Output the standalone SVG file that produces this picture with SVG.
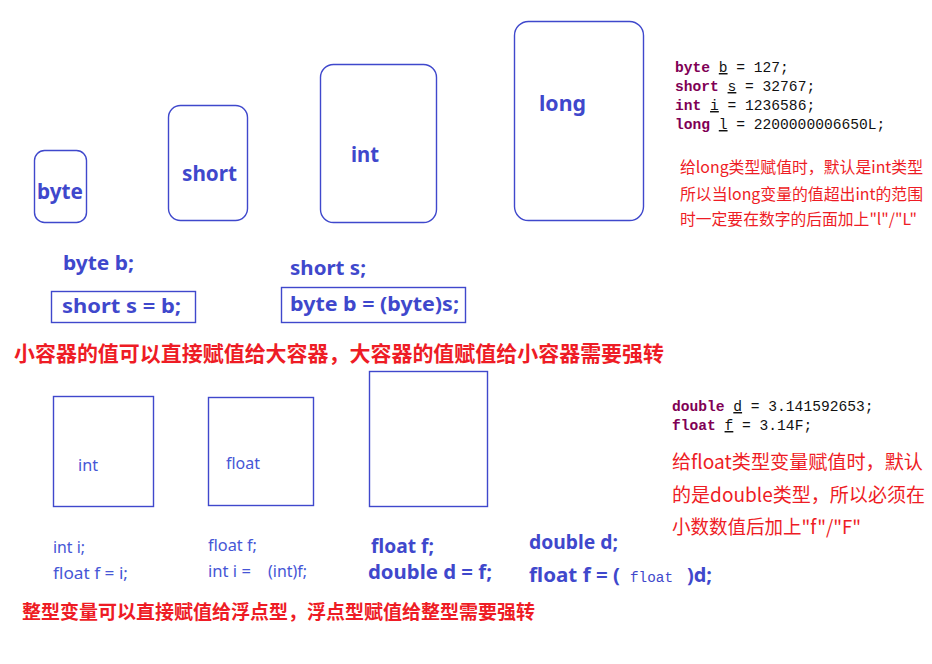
<svg xmlns="http://www.w3.org/2000/svg" width="932" height="664" viewBox="0 0 932 664">
<style>
.box{fill:none;stroke:#3f48cc;stroke-width:1.4}
.lbl{font-family:"Noto Sans","Noto Sans CJK SC",sans-serif;font-weight:bold;fill:#3f48cc}
.thin{font-family:"Noto Sans","Noto Sans CJK SC",sans-serif;font-weight:normal;fill:#4656d6}
.code{font-family:"Liberation Mono","DejaVu Sans Mono",monospace;font-size:14.6px;fill:#111}
.kw{font-weight:bold;fill:#7f0055}
.ul{text-decoration:underline}
.red{font-family:"Noto Sans CJK SC","Noto Sans",sans-serif;fill:#ee1c25}
.redb{font-family:"Noto Sans CJK SC","Noto Sans",sans-serif;font-weight:bold;fill:#ee1c25}
</style>
<rect width="932" height="664" fill="#fff"/>
<g id="connectors"></g>
<g id="node-byte">
<rect class="box" x="34.5" y="150.5" width="52" height="72" rx="10"/>
<text class="lbl" x="37" y="199" font-size="21" textLength="46" lengthAdjust="spacingAndGlyphs">byte</text>
</g>
<g id="node-short">
<rect class="box" x="168.5" y="105.5" width="79" height="115" rx="12"/>
<text class="lbl" x="182" y="181" font-size="21" textLength="55" lengthAdjust="spacingAndGlyphs">short</text>
</g>
<g id="node-int">
<rect class="box" x="320.5" y="64.5" width="116" height="158" rx="13"/>
<text class="lbl" x="351" y="162" font-size="21" textLength="28" lengthAdjust="spacingAndGlyphs">int</text>
</g>
<g id="node-long">
<rect class="box" x="514.5" y="21.5" width="129" height="199" rx="14"/>
<text class="lbl" x="539" y="111" font-size="21" textLength="47" lengthAdjust="spacingAndGlyphs">long</text>
</g>
<g id="code-top">
<text class="code" x="675" y="72"><tspan class="kw">byte</tspan> <tspan class="ul">b</tspan> = 127;</text>
<text class="code" x="675" y="91"><tspan class="kw">short</tspan> <tspan class="ul">s</tspan> = 32767;</text>
<text class="code" x="675" y="110"><tspan class="kw">int</tspan> <tspan class="ul">i</tspan> = 1236586;</text>
<text class="code" x="675" y="129"><tspan class="kw">long</tspan> <tspan class="ul">l</tspan> = 2200000006650L;</text>
</g>
<g id="note-long">
<text class="red" x="680" y="173" font-size="16" textLength="243" lengthAdjust="spacingAndGlyphs">给long类型赋值时，默认是int类型</text>
<text class="red" x="680" y="199.5" font-size="16" textLength="243" lengthAdjust="spacingAndGlyphs">所以当long变量的值超出int的范围</text>
<text class="red" x="680" y="225" font-size="16" textLength="237" lengthAdjust="spacingAndGlyphs">时一定要在数字的后面加上"l"/"L"</text>
</g>
<g id="example-widen">
<text class="lbl" x="63" y="270" font-size="20" textLength="71" lengthAdjust="spacingAndGlyphs">byte b;</text>
<rect class="box" x="51.5" y="291.5" width="144" height="31"/>
<text class="lbl" x="62" y="313" font-size="20" textLength="119" lengthAdjust="spacingAndGlyphs">short s = b;</text>
</g>
<g id="example-narrow">
<text class="lbl" x="290" y="274.5" font-size="20" textLength="76" lengthAdjust="spacingAndGlyphs">short s;</text>
<rect class="box" x="281.5" y="287.5" width="184" height="35"/>
<text class="lbl" x="290" y="311" font-size="20" textLength="169" lengthAdjust="spacingAndGlyphs">byte b = (byte)s;</text>
</g>
<g id="rule-int">
<text class="redb" x="14" y="361" font-size="21" textLength="650" lengthAdjust="spacingAndGlyphs">小容器的值可以直接赋值给大容器，大容器的值赋值给小容器需要强转</text>
</g>
<g id="node-int2">
<rect class="box" x="53.5" y="396.5" width="100" height="110"/>
<text class="thin" x="78" y="471" font-size="16" textLength="20" lengthAdjust="spacingAndGlyphs">int</text>
</g>
<g id="node-float">
<rect class="box" x="208.5" y="397.5" width="105" height="108"/>
<text class="thin" x="226" y="469" font-size="16" textLength="34" lengthAdjust="spacingAndGlyphs">float</text>
</g>
<g id="node-double">
<rect class="box" x="369.5" y="371.5" width="118" height="135"/>
</g>
<g id="code-bottom">
<text class="code" x="672" y="411"><tspan class="kw">double</tspan> <tspan class="ul">d</tspan> = 3.141592653;</text>
<text class="code" x="672" y="430"><tspan class="kw">float</tspan> <tspan class="ul">f</tspan> = 3.14F;</text>
</g>
<g id="note-float">
<text class="red" x="672" y="469" font-size="19" textLength="251" lengthAdjust="spacingAndGlyphs">给float类型变量赋值时，默认</text>
<text class="red" x="672" y="502" font-size="19" textLength="253" lengthAdjust="spacingAndGlyphs">的是double类型，所以必须在</text>
<text class="red" x="672" y="534" font-size="19" textLength="189" lengthAdjust="spacingAndGlyphs">小数数值后加上"f"/"F"</text>
</g>
<g id="example-int-float">
<text class="thin" x="53" y="553" font-size="16" textLength="32" lengthAdjust="spacingAndGlyphs">int i;</text>
<text class="thin" x="53" y="579" font-size="16" textLength="75" lengthAdjust="spacingAndGlyphs">float f = i;</text>
</g>
<g id="example-float-int">
<text class="thin" x="208" y="551" font-size="16" textLength="49" lengthAdjust="spacingAndGlyphs">float f;</text>
<text class="thin" x="208" y="577" font-size="16" textLength="43" lengthAdjust="spacingAndGlyphs">int i =</text>
<text class="thin" x="268" y="577" font-size="16" textLength="39" lengthAdjust="spacingAndGlyphs">(int)f;</text>
</g>
<g id="example-float-double">
<text class="lbl" x="371" y="553" font-size="19" textLength="63" lengthAdjust="spacingAndGlyphs">float f;</text>
<text class="lbl" x="368" y="578.5" font-size="19" textLength="124" lengthAdjust="spacingAndGlyphs">double d = f;</text>
</g>
<g id="example-double-float">
<text class="lbl" x="529" y="548.5" font-size="19" textLength="89" lengthAdjust="spacingAndGlyphs">double d;</text>
<text class="lbl" x="529" y="582" font-size="19" textLength="91" lengthAdjust="spacingAndGlyphs">float f = (</text>
<text x="630" y="582" font-family="Liberation Mono,DejaVu Sans Mono,monospace" font-size="14" fill="#3f48cc" textLength="43" lengthAdjust="spacingAndGlyphs">float</text>
<text class="lbl" x="687" y="582" font-size="19" textLength="25" lengthAdjust="spacingAndGlyphs">)d;</text>
</g>
<g id="rule-float">
<text class="redb" x="22" y="619" font-size="19" textLength="513" lengthAdjust="spacingAndGlyphs">整型变量可以直接赋值给浮点型，浮点型赋值给整型需要强转</text>
</g>
</svg>
